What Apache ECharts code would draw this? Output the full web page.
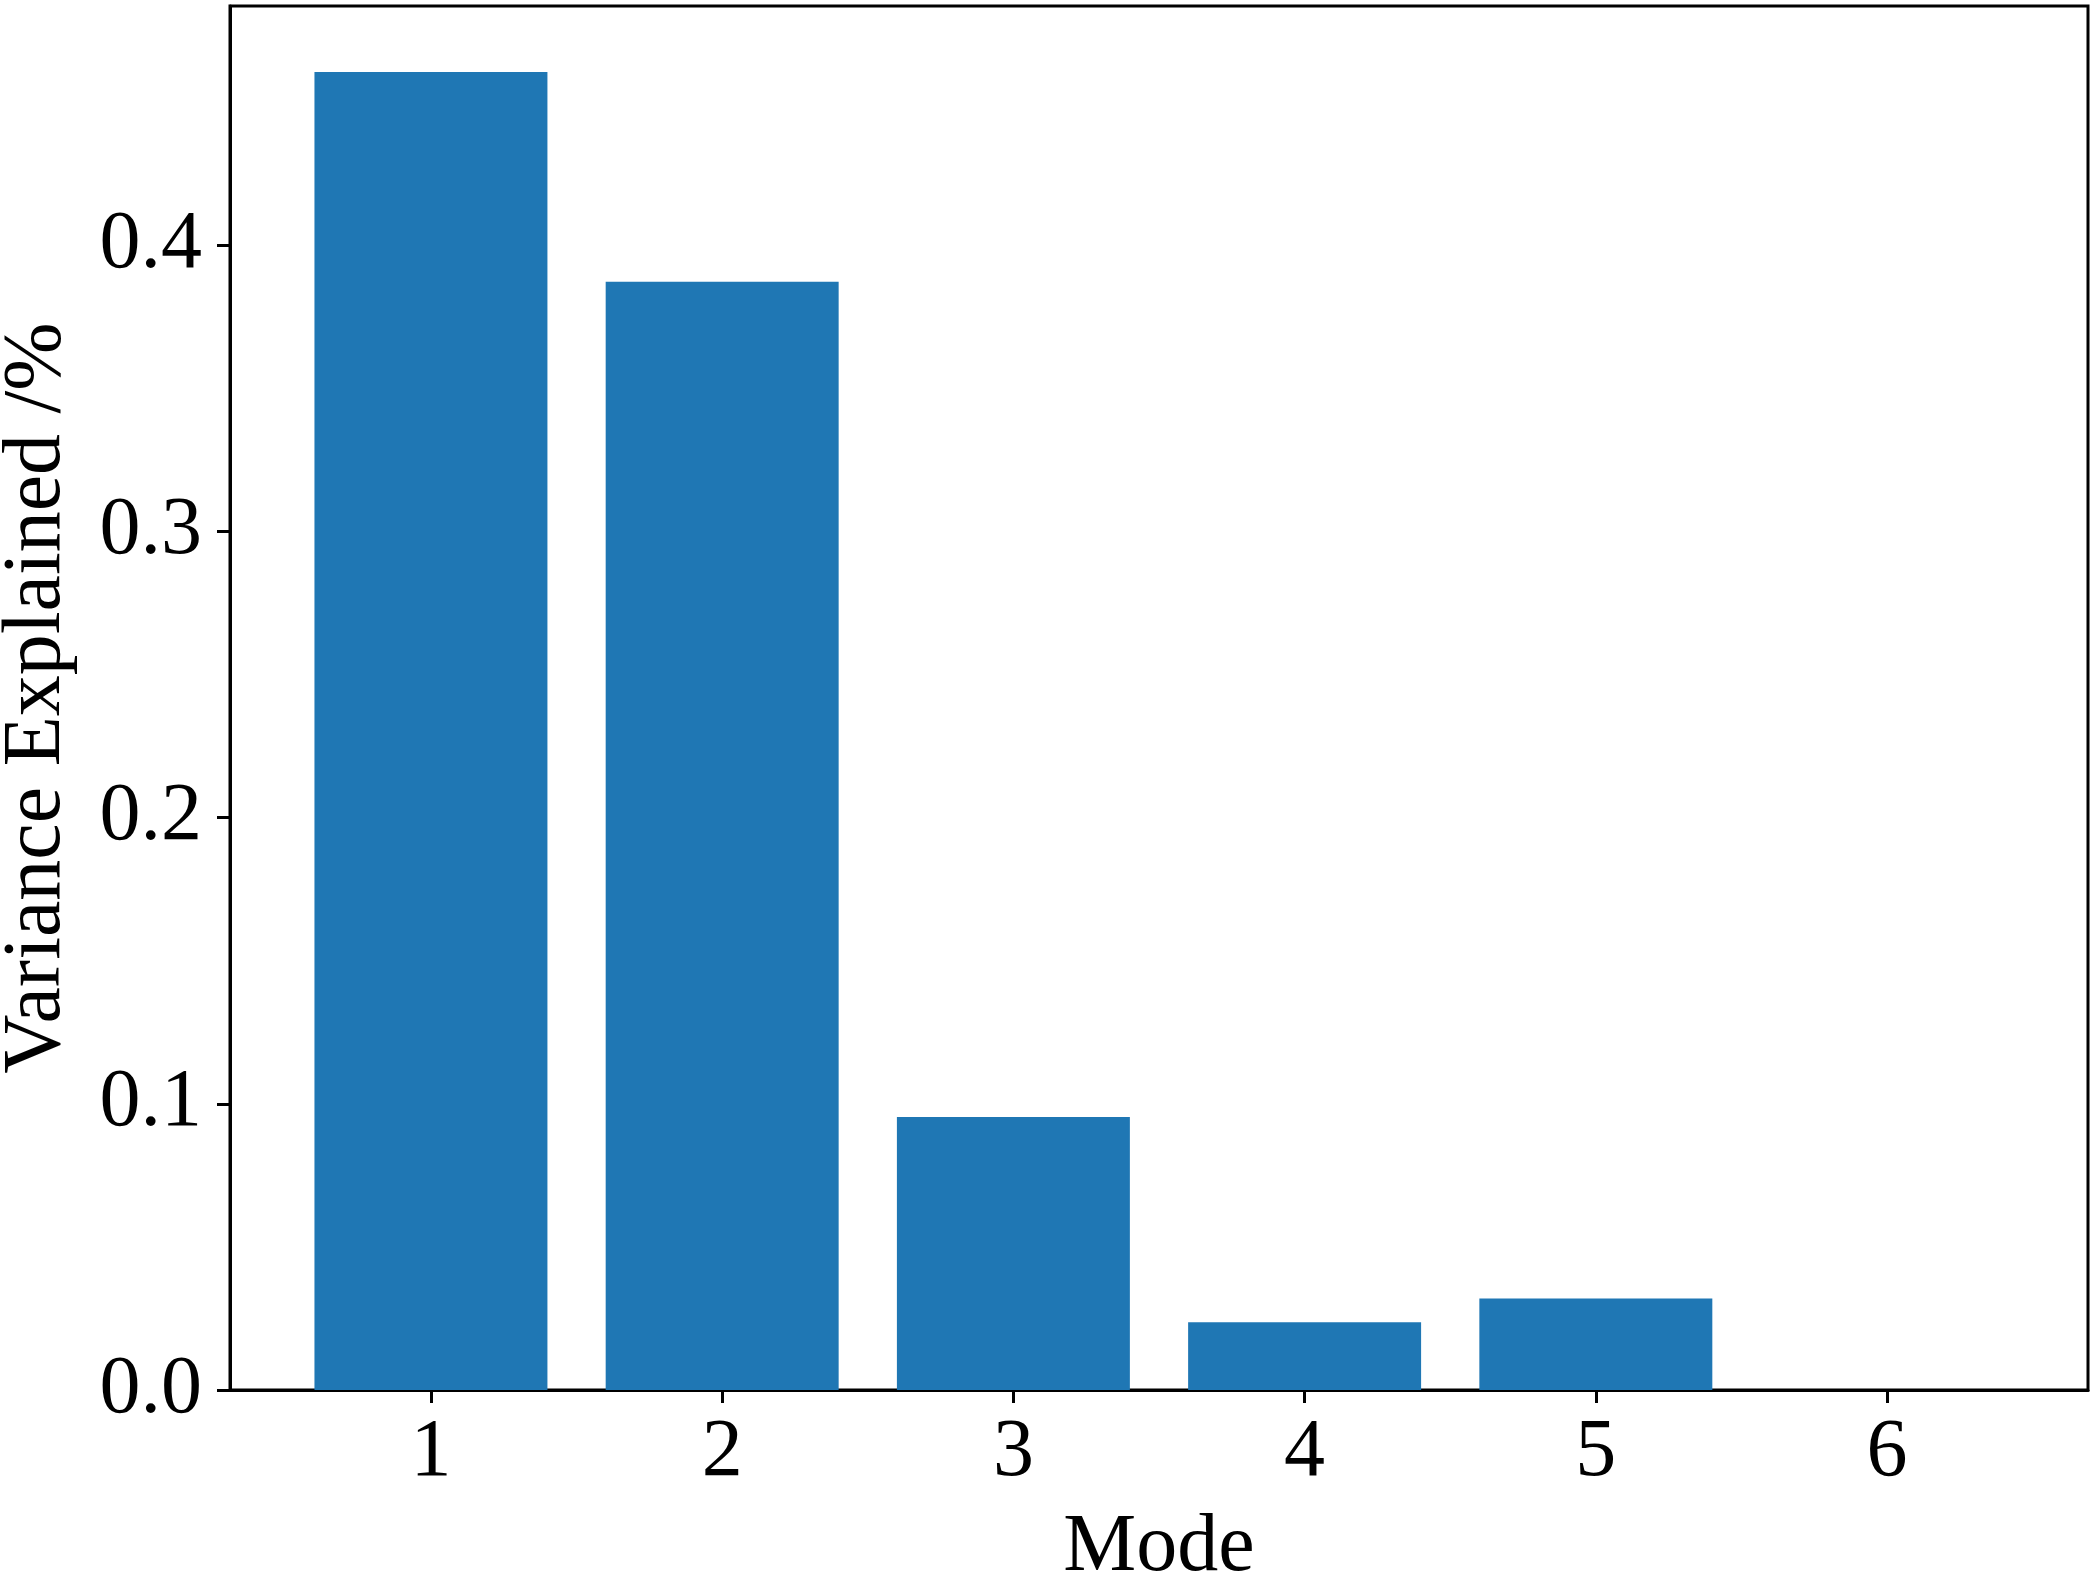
<!DOCTYPE html>
<html>
<head>
<meta charset="utf-8">
<script src="https://cdn.jsdelivr.net/npm/echarts@6/dist/echarts.min.js"></script>
<style>
html,body{margin:0;padding:0;background:#fff;}
#c{width:2095px;height:1573px;}
</style>
</head>
<body>
<div id="c"></div>
<script>
const modes = [1, 2, 3, 4, 5, 6];
const variance = [0.4605, 0.3872, 0.0954, 0.0237, 0.0320, 0.0];
const yTicks = [0.0, 0.1, 0.2, 0.3, 0.4];

const FONT = '"Liberation Serif", "Times New Roman", serif';
const gridLeft = 230, gridRight = 7, gridTop = 6, gridBottom = 183;
const xMin = 0.31, xMax = 6.69;
const yMax = Math.max.apply(null, variance) * 1.05;
const plotW = 2095 - gridLeft - gridRight;
const barW = plotW / (xMax - xMin) * 0.8;

const chart = echarts.init(document.getElementById('c'), null, {renderer: 'canvas'});
chart.setOption({
  animation: false,
  backgroundColor: '#ffffff',
  grid: {left: gridLeft, right: gridRight, top: gridTop, bottom: gridBottom,
         containLabel: false, outerBoundsMode: 'none',
         show: true, borderColor: '#000', borderWidth: 3, backgroundColor: 'transparent'},
  xAxis: {
    type: 'value', min: xMin, max: xMax,
    name: 'Mode', nameLocation: 'middle', nameGap: 117,
    nameTextStyle: {fontFamily: FONT, fontSize: 82, color: '#000'},
    axisLine: {show: true, onZero: false, lineStyle: {color: '#000', width: 3}},
    axisTick: {show: true, length: 13, lineStyle: {color: '#000', width: 3}, customValues: modes},
    axisLabel: {fontFamily: FONT, fontSize: 82, color: '#000', margin: 22, customValues: modes,
                formatter: v => String(v)},
    splitLine: {show: false}
  },
  yAxis: {
    type: 'value', min: 0, max: yMax,
    name: 'Variance Explained /%', nameLocation: 'middle', nameGap: 152,
    nameTextStyle: {fontFamily: FONT, fontSize: 82, color: '#000'},
    axisLine: {show: true, lineStyle: {color: '#000', width: 3}},
    axisTick: {show: true, length: 13, lineStyle: {color: '#000', width: 3}, customValues: yTicks},
    axisLabel: {fontFamily: FONT, fontSize: 82, color: '#000', margin: 28, customValues: yTicks,
                formatter: v => v.toFixed(1)},
    splitLine: {show: false}
  },
  series: [{
    type: 'bar',
    data: modes.map((m, i) => [m, variance[i]]),
    barWidth: barW,
    itemStyle: {color: '#1f77b4'}
  }]
});
</script>
</body>
</html>
